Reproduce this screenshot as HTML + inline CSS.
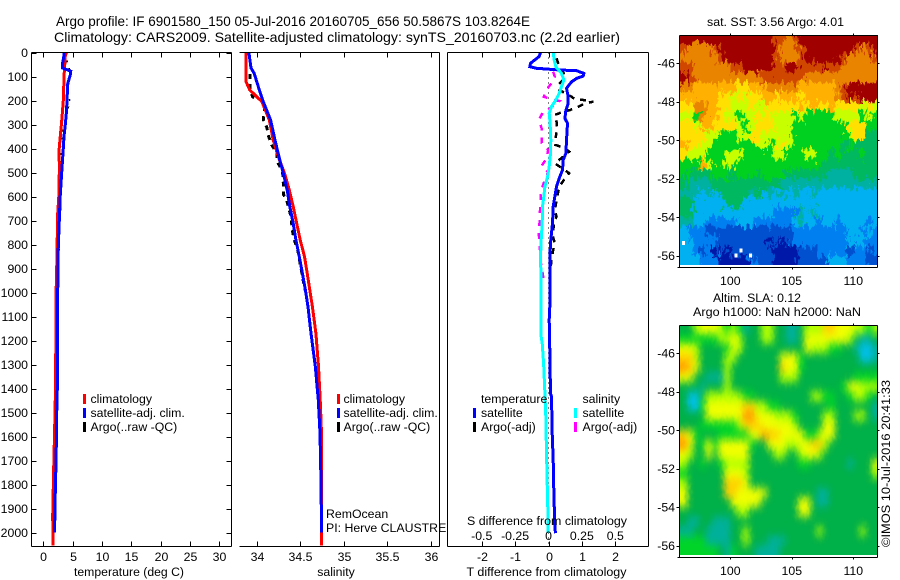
<!DOCTYPE html>
<html lang="en">
<head>
<meta charset="utf-8">
<title>Argo profile 6901580_150</title>
<style>
html,body{margin:0;padding:0;background:#fff;}
svg{display:block;}
text{font-family:"Liberation Sans",Arial,sans-serif;font-size:12.3px;fill:#000;}
.title{font-size:13.6px;}
.crisp{shape-rendering:crispEdges;}
</style>
</head>
<body>
<svg id="figure" xmlns="http://www.w3.org/2000/svg" width="900" height="580" viewBox="0 0 900 580">
  <defs>
    <filter id="sst-streaks" filterUnits="userSpaceOnUse" x="660" y="15" width="240" height="270" color-interpolation-filters="sRGB">
      <feTurbulence type="fractalNoise" baseFrequency="0.32 0.13" numOctaves="3" seed="4" result="n"/>
      <feDisplacementMap in="SourceGraphic" in2="n" scale="17" xChannelSelector="R" yChannelSelector="G"/>
    </filter>
    <filter id="sla-smooth" filterUnits="userSpaceOnUse" x="660" y="305" width="240" height="270" color-interpolation-filters="sRGB">
      <feGaussianBlur stdDeviation="3.4 4.6" result="b"/>
      <feTurbulence type="fractalNoise" baseFrequency="0.4 0.2" numOctaves="1" seed="7" result="n"/>
      <feDisplacementMap in="b" in2="n" scale="4" xChannelSelector="R" yChannelSelector="G"/>
    </filter>
    <clipPath id="sst-clip"><rect x="680" y="35" width="198" height="230"/></clipPath>
    <clipPath id="sla-clip"><rect x="680" y="325" width="198" height="230"/></clipPath>
  </defs>

  <text class="title" x="56" y="26" textLength="474" lengthAdjust="spacingAndGlyphs">Argo profile: IF 6901580_150 05-Jul-2016 20160705_656 50.5867S 103.8264E</text>
  <text class="title" x="54" y="42" textLength="566" lengthAdjust="spacingAndGlyphs">Climatology: CARS2009. Satellite-adjusted climatology: synTS_20160703.nc (2.2d earlier)</text>

  <g id="panel-temp"></g>
  <g id="panel-sal"></g>
  <g id="panel-diff"></g>

  <g>
    <rect class="crisp" x="83" y="394" width="3" height="10" fill="#ff0000"/>
    <text x="90.5" y="403">climatology</text>
    <rect class="crisp" x="83" y="408" width="3" height="10" fill="#0000ff"/>
    <text x="90.5" y="417">satellite-adj. clim.</text>
    <rect class="crisp" x="83" y="422" width="3" height="10" fill="#000"/>
    <text x="90.5" y="431">Argo(..raw -QC)</text>
  </g>
  <g>
    <rect class="crisp" x="337" y="394" width="3" height="10" fill="#ff0000"/>
    <text x="343.5" y="403">climatology</text>
    <rect class="crisp" x="337" y="408" width="3" height="10" fill="#0000ff"/>
    <text x="343.5" y="417">satellite-adj. clim.</text>
    <rect class="crisp" x="337" y="422" width="3" height="10" fill="#000"/>
    <text x="343.5" y="431">Argo(..raw -QC)</text>
  </g>
  <text x="326" y="518">RemOcean</text>
  <text x="326" y="532">PI: Herve CLAUSTRE</text>

  <g>
    <text x="481" y="403">temperature</text>
    <rect class="crisp" x="473" y="408" width="3" height="10" fill="#0000ff"/>
    <text x="481" y="417">satellite</text>
    <rect class="crisp" x="473" y="422" width="3" height="10" fill="#000"/>
    <text x="481" y="431">Argo(-adj)</text>
    <text x="582.5" y="403">salinity</text>
    <rect class="crisp" x="574" y="408" width="3" height="10" fill="#00ffff"/>
    <text x="582.5" y="417">satellite</text>
    <rect class="crisp" x="574" y="422" width="3" height="10" fill="#ff00ff"/>
    <text x="582.5" y="431">Argo(-adj)</text>
  </g>
  <text x="547" y="525" text-anchor="middle" textLength="160" lengthAdjust="spacingAndGlyphs">S difference from climatology</text>
  <text x="546.5" y="576" text-anchor="middle" textLength="160" lengthAdjust="spacingAndGlyphs">T difference from climatology</text>
  <text x="129" y="576" text-anchor="middle" textLength="110" lengthAdjust="spacingAndGlyphs">temperature (deg C)</text>
  <text x="336" y="576" text-anchor="middle">salinity</text>

  <text x="707" y="26" textLength="137" lengthAdjust="spacingAndGlyphs">sat. SST: 3.56  Argo: 4.01</text>
  <g id="map-sst"></g>
  <text x="713" y="302" textLength="88" lengthAdjust="spacingAndGlyphs">Altim. SLA: 0.12</text>
  <text x="693" y="316" textLength="168" lengthAdjust="spacingAndGlyphs">Argo h1000: NaN h2000: NaN</text>
  <g id="map-sla"></g>
  <text transform="translate(890,547) rotate(-90)" textLength="167" lengthAdjust="spacingAndGlyphs">©IMOS 10-Jul-2016 20:41:33</text>
</svg>

<script>
/* Temperature panel */
const tempTicks = [0, 5, 10, 15, 20, 25, 30];
const depthTicks = [0, 100, 200, 300, 400, 500, 600, 700, 800, 900, 1000, 1100, 1200, 1300, 1400, 1500, 1600, 1700, 1800, 1900, 2000];
const tempClimDepth = [0, 100, 150, 200, 270, 300, 340, 400, 500, 600, 670, 900, 1000, 1300, 1400, 1560, 1750, 1930, 2054];
const tempClimValues = [3.8, 3.55, 3.5, 3.43, 3.2, 3.1, 2.95, 2.72, 2.75, 2.65, 2.47, 2.3, 2.2, 2.13, 2.1, 1.96, 1.78, 1.62, 1.67];
const tempSatDepth = [0, 20, 50, 65, 72, 78, 95, 130, 200, 250, 300, 350, 400, 500, 600, 700, 800, 900, 1000, 1200, 1400, 1500, 1700, 1800, 1930, 2000];
const tempSatValues = [3.55, 3.5, 3.26, 3.3, 4.1, 4.68, 4.6, 4.17, 4.05, 3.95, 3.77, 3.55, 3.43, 3.15, 2.9, 2.75, 2.58, 2.52, 2.47, 2.45, 2.4, 2.3, 2.2, 2.07, 2.0, 1.9];
const tempArgoDepth = [0, 25, 45, 70, 85, 100, 120, 150, 180, 205, 250, 300, 340, 380, 420, 470, 505, 560, 600, 650, 700, 760, 820, 900];
const tempArgoValues = [4.0, 3.9, 4.2, 4.5, 4.8, 4.6, 4.4, 4.2, 4.3, 4.6, 4.0, 3.7, 3.1, 3.4, 3.0, 3.0, 3.3, 3.0, 3.05, 3.0, 2.8, 2.8, 2.75, 2.6];

/* Salinity panel */
const salTicks = [34, 34.5, 35, 35.5, 36];
const salClimDepth = [0, 121, 156, 205, 281, 365, 435, 503, 573, 642, 712, 781, 851, 920, 990, 1059, 1170, 1308, 1448, 1586, 2054];
const salClimValues = [33.877, 33.877, 33.92, 34.06, 34.145, 34.19, 34.25, 34.32, 34.375, 34.42, 34.46, 34.5, 34.55, 34.58, 34.61, 34.64, 34.68, 34.71, 34.73, 34.745, 34.745];
const salSatDepth = [0, 65, 86, 156, 205, 281, 365, 435, 503, 573, 642, 712, 781, 851, 920, 990, 1059, 1170, 1308, 1448, 1586, 1809, 2000];
const salSatValues = [33.91, 33.935, 33.97, 34.03, 34.076, 34.16, 34.21, 34.256, 34.306, 34.35, 34.38, 34.42, 34.45, 34.49, 34.525, 34.56, 34.59, 34.624, 34.674, 34.708, 34.728, 34.74, 34.745];
const salArgoDepth = [90, 120, 156, 185, 197, 225, 281, 310, 350, 385, 420, 455, 475, 503, 545, 590, 615, 685, 740, 781, 823, 920, 990];
const salArgoValues = [33.923, 33.923, 33.923, 33.954, 34.057, 34.095, 34.076, 34.115, 34.138, 34.172, 34.233, 34.233, 34.268, 34.299, 34.306, 34.306, 34.345, 34.394, 34.409, 34.432, 34.471, 34.52, 34.555];

/* Difference panel */
const tDiffTicks = [-2, -1, 0, 1, 2];
const sDiffTickLabels = ['-0.5', '-0.25', '0', '0.25', '0.5'];
const tDiffSatDepth = [0, 17, 31, 45, 59, 66, 73, 76, 87, 98, 108, 122, 149, 184, 212, 240, 274, 295, 365, 420, 448, 490, 524, 559, 601, 642, 712, 781, 851, 1059, 1114, 1239, 1420, 1434, 1587, 1698, 1823, 1975, 2003];
const tDiffSatValues = [-0.24, -0.28, -0.41, -0.54, -0.56, -0.36, 0.34, 0.84, 1.06, 1.04, 0.84, 0.69, 0.54, 0.59, 0.59, 0.52, 0.49, 0.57, 0.54, 0.52, 0.44, 0.42, 0.32, 0.24, 0.19, 0.14, 0.12, 0.07, 0.04, 0.04, 0.02, 0.04, 0.06, 0.09, 0.11, 0.14, 0.16, 0.19, 0.21];
const tDiffArgoDepth = [24, 45, 66, 87, 108, 135, 156, 184, 195, 198, 205, 212, 226, 240, 247, 260, 288, 316, 351, 385, 399, 413, 434, 462, 490, 503, 531, 559, 656, 684, 698, 740, 760, 795, 823, 865, 892];
const tDiffArgoValues = [0.24, 0.29, 0.34, 0.46, 0.49, 0.29, 0.32, 0.69, 0.79, 1.04, 1.34, 1.09, 0.89, 0.64, 0.44, 0.19, 0.24, 0.26, 0.22, 0.21, 0.49, 0.62, 0.44, 0.19, 0.49, 0.62, 0.46, 0.32, 0.19, 0.24, 0.19, 0.14, 0.12, 0.19, 0.14, 0.09, 0.07];
const sDiffSatDepth = [0, 31, 59, 87, 115, 142, 170, 198, 226, 253, 295, 365, 420, 476, 517, 559, 601, 642, 712, 781, 851, 920, 1059, 1184, 1212, 1295, 1420, 1517, 1670, 1864, 1975, 2003];
const sDiffSatValues = [0.035, 0.042, 0.055, 0.097, 0.115, 0.097, 0.08, 0.055, 0.022, 0.005, 0.012, 0.017, 0.015, 0.005, -0.007, -0.027, -0.035, -0.045, -0.047, -0.055, -0.06, -0.057, -0.055, -0.055, -0.047, -0.037, -0.027, -0.02, -0.015, -0.007, -0.002, -0.002];
const sDiffArgoDepth = [80, 101, 128, 156, 184, 198, 202, 233, 247, 281, 316, 351, 378, 406, 441, 473, 497, 531, 559, 601, 628, 670, 698, 740, 760, 809, 878, 934, 962];
const sDiffArgoValues = [0.035, 0.047, 0.022, -0.015, -0.035, 0.035, 0.08, 0.01, -0.04, -0.072, -0.052, -0.052, -0.052, -0.002, -0.015, -0.052, -0.002, -0.027, -0.045, -0.06, -0.06, -0.065, -0.065, -0.072, -0.072, -0.065, -0.057, -0.04, -0.04];

/* Map axes */
const lonTicks = [100, 105, 110];
const latTicks = [-46, -48, -50, -52, -54, -56];
const mapLons = [96, 96.5, 97, 97.5, 98, 98.5, 99, 99.5, 100, 100.5, 101, 101.5, 102, 102.5, 103, 103.5, 104, 104.5, 105, 105.5, 106, 106.5, 107, 107.5, 108, 108.5, 109, 109.5, 110, 110.5, 111, 111.5];
const mapLats = [-44.5, -45, -45.5, -46, -46.5, -47, -47.5, -48, -48.5, -49, -49.5, -50, -50.5, -51, -51.5, -52, -52.5, -53, -53.5, -54, -54.5, -55, -55.5, -56];

/* SST map, colour-class per cell */
const sstGrid = [
[12,12,12,12,12,12,12,12,12,12,12,12,12,12,12,11,11,10,11,12,12,12,12,12,12,12,12,12,12,12,12,12],
[11,10,10,10,10,11,12,12,12,12,12,12,12,12,12,11,10,10,10,11,12,12,12,12,12,12,12,12,11,10,11,12],
[10,10,10,10,10,10,11,12,12,12,12,12,12,12,12,11,10,10,10,11,12,12,12,12,12,12,11,10,10,10,10,11],
[11,11,10,10,10,10,10,10,11,11,12,12,12,12,12,11,11,12,12,11,11,11,11,12,11,11,10,10,10,10,10,10],
[12,11,10,10,10,10,10,10,10,10,10,10,10,11,11,11,11,11,11,11,10,10,10,10,10,10,10,10,10,10,10,10],
[10,10,9,9,9,9,9,9,9,8,8,9,9,9,10,10,10,10,10,9,9,9,9,9,9,10,11,12,12,12,12,12],
[9,9,9,9,9,9,8,8,7,8,7,8,8,9,9,8,9,9,9,8,9,9,9,9,9,10,11,12,11,12,12,12],
[8,8,10,10,9,9,8,8,7,7,7,8,7,7,8,8,8,8,8,9,8,9,8,8,9,8,8,8,8,7,8,7],
[7,7,6,10,9,9,8,7,7,6,7,7,8,7,8,7,7,7,6,7,6,6,6,6,6,7,7,7,7,6,7,6],
[8,8,7,9,9,8,8,8,8,7,6,7,8,8,8,7,7,7,6,6,6,6,6,6,6,6,6,8,8,8,6,6],
[8,8,8,8,7,7,6,6,6,7,7,8,8,7,7,7,7,7,6,6,6,6,6,6,6,6,6,7,8,8,5,5],
[9,8,8,7,7,6,6,6,6,6,6,6,7,7,6,7,8,7,6,6,6,6,6,6,6,6,5,6,5,5,5,5],
[8,7,7,7,6,6,6,7,7,7,6,6,6,6,6,7,7,6,6,6,7,7,6,6,5,6,5,5,5,6,5,5],
[6,6,6,9,7,6,6,7,7,6,6,6,6,6,6,6,6,6,6,6,6,6,6,5,5,5,5,5,5,5,5,5],
[6,5,5,5,5,6,6,6,5,6,6,6,5,6,6,6,6,5,5,5,5,5,5,5,4,4,4,4,5,5,5,5],
[5,4,4,4,4,5,5,5,5,5,5,5,5,5,5,5,4,4,4,4,4,4,4,4,4,4,4,4,4,4,4,4],
[4,4,4,3,4,3,5,5,5,5,5,4,5,3,4,3,4,3,4,3,3,4,3,3,3,3,3,3,3,3,3,3],
[5,5,3,3,3,3,3,5,5,5,3,3,3,3,3,3,3,3,3,3,3,3,3,3,3,3,3,3,3,3,3,3],
[5,5,3,3,3,3,3,3,3,3,3,3,3,3,3,2,2,2,2,4,3,4,3,3,3,3,3,3,3,3,3,3],
[4,4,3,3,2,2,2,2,2,3,3,3,2,2,2,2,2,2,3,4,3,3,2,3,3,2,3,3,3,3,2,3],
[3,2,2,2,1,1,1,1,1,1,1,1,1,1,1,1,1,1,2,2,2,2,2,2,2,2,2,3,3,2,3,2],
[3,3,2,2,2,2,1,1,1,1,1,1,1,1,0,1,0,1,2,2,2,2,2,2,2,2,2,3,3,3,2,2],
[3,3,2,1,2,0,1,0,1,1,1,1,1,1,1,0,0,0,0,1,1,1,2,2,2,2,2,1,2,2,1,2],
[3,3,3,2,2,2,0,0,0,0,0,2,1,1,1,0,0,0,0,1,1,1,1,1,3,3,3,2,2,2,1,1]
];
const sstMissingLons = [96.25, 100.5, 100.9, 101.7];
const sstMissingLats = [-55.35, -56, -55.75, -56];

/* Sea-level-anomaly map, colour-class per cell */
const slaGrid = [
[5,5,7,8,8,8,7,6,7,6,4,5,5,7,7,5,5,4,4,5,7,7,7,9,9,8,8,8,7,7,6,7],
[6,6,6,6,6,6,7,7,8,7,5,5,5,7,7,5,5,4,4,5,8,8,8,8,8,8,8,7,5,4,4,5],
[8,8,7,5,5,5,5,6,8,7,5,5,5,5,5,5,5,5,5,5,8,7,7,7,6,6,5,5,4,3,3,4],
[9,9,7,5,5,5,5,7,7,5,5,5,5,5,5,5,8,8,8,6,5,5,5,5,5,5,5,5,5,3,3,4],
[10,9,8,5,5,5,5,7,5,5,5,5,5,5,5,5,9,8,8,6,5,5,5,5,5,5,5,5,5,5,5,5],
[8,8,5,5,4,4,4,7,5,5,5,5,5,5,5,5,7,7,7,5,5,5,5,5,5,5,5,5,6,6,6,6],
[5,5,5,4,5,5,5,7,5,5,5,5,5,5,5,5,5,5,5,5,5,5,5,5,5,5,6,8,8,7,7,7],
[5,3,3,5,7,7,7,7,7,7,6,6,5,5,5,5,5,5,5,5,5,7,7,6,6,5,5,6,7,7,6,5],
[5,3,3,6,8,8,8,8,8,8,9,9,7,7,6,6,5,5,5,5,5,5,5,5,6,5,5,5,5,5,5,4],
[5,5,5,5,8,8,8,8,8,8,10,10,8,8,8,7,7,7,6,5,5,5,5,7,7,5,5,5,7,7,5,4],
[5,5,5,6,6,6,6,6,6,7,9,9,9,8,8,8,8,8,7,5,5,5,5,8,8,5,5,5,5,5,5,5],
[9,8,6,5,5,5,6,6,6,6,6,8,8,10,9,9,8,8,8,8,6,6,7,8,8,5,5,5,5,5,5,5],
[10,8,5,6,8,6,8,8,8,8,8,6,5,5,8,8,8,7,7,8,8,9,9,7,5,5,5,5,5,5,5,5],
[8,7,5,5,8,5,8,8,8,8,8,5,5,5,5,7,7,5,5,7,8,8,7,5,5,5,5,5,5,5,5,5],
[7,5,5,6,5,5,6,7,7,7,7,5,5,5,5,5,5,5,5,6,6,5,5,5,5,5,5,4,5,5,5,8],
[6,5,5,5,5,5,5,8,8,8,7,5,5,5,5,5,5,5,5,5,5,5,5,5,5,5,5,5,5,5,5,7],
[7,5,5,5,5,5,5,9,9,9,8,5,5,5,5,5,5,5,5,5,5,5,5,5,5,5,5,5,5,5,5,5],
[8,5,5,5,5,5,5,9,9,8,8,8,8,8,5,5,5,5,5,5,5,5,4,4,5,5,5,5,5,5,5,5],
[8,5,5,5,5,5,5,5,8,8,8,8,8,5,5,5,5,5,5,8,8,5,4,4,5,5,5,5,5,5,5,5],
[5,5,5,5,5,5,5,5,5,7,7,5,5,5,5,5,5,5,5,8,8,5,5,5,5,5,5,5,5,5,5,5],
[5,4,4,5,5,4,4,4,5,5,5,5,5,5,5,5,5,5,5,5,5,5,5,5,5,5,5,5,5,5,5,5],
[4,4,5,5,4,4,4,4,5,5,7,5,5,5,5,5,5,5,5,5,5,5,7,5,5,5,5,5,5,7,5,5],
[6,6,6,6,4,4,4,4,5,5,7,5,5,5,4,4,4,5,5,5,5,5,5,5,5,5,5,5,5,5,5,5],
[6,6,6,6,6,6,5,4,6,5,5,5,4,4,4,4,5,5,5,5,5,5,5,5,5,5,5,5,5,5,5,5]
];

const sstColours = ['#0018a8', '#0050d0', '#0080f0', '#00b0f0', '#00b0a0', '#00b860', '#00d020', '#c8ff00', '#ffe000', '#ffb000', '#e88400', '#d04800', '#a00000'];
const slaColours = ['#0000c0', '#0060e0', '#0090e0', '#00c0e8', '#00b09a', '#00b048', '#00d428', '#b0ff00', '#f0ff00', '#ffd000', '#ff9800'];

const SVG_NS = 'http://www.w3.org/2000/svg';
const depthY = d => 52.5 + 0.24 * d;
const tempX = v => 43.2 + 5.87 * v;
const salX = v => 256.7 + 87 * (v - 34);
const tDiffX = v => 548.5 + 33.4 * v;
const sDiffX = v => 548.5 + 133.6 * v;

function svgEl(tag, attrs, parent) {
  const el = document.createElementNS(SVG_NS, tag);
  for (const k in attrs) el.setAttribute(k, attrs[k]);
  parent.appendChild(el);
  return el;
}

function crispLine(parent, x1, y1, x2, y2, name) {
  const el = svgEl('line', {x1: x1, y1: y1, x2: x2, y2: y2, stroke: '#000', 'stroke-width': 1, 'shape-rendering': 'crispEdges'}, parent);
  
  
  return el;
}

function label(parent, x, y, str, anchor, name) {
  const el = svgEl('text', {x: x, y: y, 'text-anchor': anchor}, parent);
  el.textContent = str;
  
  
  return el;
}

function drawProfile(parent, depths, values, xFn, colour, width, dash, name) {
  const pts = depths.map((d, i) => xFn(values[i]).toFixed(1) + ',' + depthY(d).toFixed(1)).join(' ');
  const attrs = {points: pts, fill: 'none', stroke: colour, 'stroke-width': width, 'shape-rendering': 'crispEdges'};
  if (dash) attrs['stroke-dasharray'] = dash;
  const el = svgEl('polyline', attrs, parent);
  
  
  return el;
}

const TOP = 52.5, BOTTOM = 546.5;

function xTicks(parent, ticks, xFn, labels, name) {
  ticks.forEach((t, i) => {
    const x = Math.round(xFn(t)) + 0.5;
    crispLine(parent, x, TOP, x, TOP + 5, name + '-top-tick');
    crispLine(parent, x, BOTTOM, x, BOTTOM - 5, name + '-bottom-tick');
    if (labels) label(parent, x, 561, labels[i], 'middle', name + '-tick-label');
  });
}

/* Temperature panel */
const pT = document.getElementById('panel-temp');
drawProfile(pT, tempArgoDepth, tempArgoValues, tempX, '#000', 1.5, '2 6', 'argo-temperature-line');
drawProfile(pT, tempClimDepth, tempClimValues, tempX, '#ff0000', 3, null, 'climatology-temperature-line');
drawProfile(pT, tempSatDepth, tempSatValues, tempX, '#0000ff', 3, null, 'satellite-temperature-line');
crispLine(pT, 31.5, TOP, 231.5, TOP, 'temperature-frame-top');
crispLine(pT, 31.5, BOTTOM, 231.5, BOTTOM, 'temperature-frame-bottom');
crispLine(pT, 31.5, TOP, 31.5, BOTTOM, 'temperature-frame-left');
crispLine(pT, 231.5, TOP, 231.5, BOTTOM, 'temperature-frame-right');
xTicks(pT, tempTicks, tempX, tempTicks.map(String), 'temperature');
depthTicks.forEach(d => {
  const y = Math.round(depthY(d)) + 0.5;
  crispLine(pT, 31.5, y, 36.5, y, 'depth-left-tick');
  crispLine(pT, 231.5, y, 226.5, y, 'depth-right-tick');
  label(pT, 28, depthY(d) + 4.5, String(d), 'end', 'depth-tick-label');
});

/* Salinity panel */
const pS = document.getElementById('panel-sal');
drawProfile(pS, salArgoDepth, salArgoValues, salX, '#000', 3, '5 5', 'argo-salinity-line');
drawProfile(pS, salClimDepth, salClimValues, salX, '#ff0000', 3, null, 'climatology-salinity-line');
drawProfile(pS, salSatDepth, salSatValues, salX, '#0000ff', 3, null, 'satellite-salinity-line');
crispLine(pS, 239.5, TOP, 439.5, TOP, 'salinity-frame-top');
crispLine(pS, 239.5, BOTTOM, 439.5, BOTTOM, 'salinity-frame-bottom');
crispLine(pS, 439.5, TOP, 439.5, BOTTOM, 'salinity-frame-right');
xTicks(pS, salTicks, salX, salTicks.map(String), 'salinity');

/* Difference panel */
const pD = document.getElementById('panel-diff');
const zero = svgEl('line', {x1: tDiffX(0), y1: TOP, x2: tDiffX(0), y2: BOTTOM, stroke: '#000', 'stroke-width': 1, 'stroke-dasharray': '1 4', 'shape-rendering': 'crispEdges'}, pD);


drawProfile(pD, tDiffArgoDepth, tDiffArgoValues, tDiffX, '#000', 2.5, '6 6', 'argo-temperature-difference-line');
drawProfile(pD, sDiffArgoDepth, sDiffArgoValues, sDiffX, '#ff00ff', 2.5, '6 7', 'argo-salinity-difference-line');
drawProfile(pD, tDiffSatDepth, tDiffSatValues, tDiffX, '#0000ff', 3, null, 'satellite-temperature-difference-line');
drawProfile(pD, sDiffSatDepth, sDiffSatValues, sDiffX, '#00ffff', 3, null, 'satellite-salinity-difference-line');
crispLine(pD, 447.5, TOP, 648.5, TOP, 'difference-frame-top');
crispLine(pD, 447.5, BOTTOM, 648.5, BOTTOM, 'difference-frame-bottom');
crispLine(pD, 447.5, TOP, 447.5, BOTTOM, 'difference-frame-left');
crispLine(pD, 648.5, TOP, 648.5, BOTTOM, 'difference-frame-right');
xTicks(pD, tDiffTicks, tDiffX, tDiffTicks.map(String), 't-difference');
tDiffTicks.forEach((t, i) => {
  label(pD, tDiffX(t), 540, sDiffTickLabels[i], 'middle', 's-difference-tick-label');
});

/* Maps */
const lonX = lon => 730.3 + 12.3 * (lon - 100);

function drawMap(cfg) {
  const root = document.getElementById(cfg.id);
  const latY = lat => cfg.y46 + 19.25 * (-46 - lat);
  const clip = svgEl('g', {'clip-path': 'url(#' + cfg.clip + ')'}, root);
  
  
  const cells = svgEl('g', {filter: 'url(#' + cfg.filter + ')'}, clip);
  
  
  const nR = cfg.grid.length;
  cfg.grid.forEach((row, r) => {
    row.forEach((v, c) => {
      const x0 = lonX(mapLons[c]);
      const x1 = c + 1 < row.length ? lonX(mapLons[c + 1]) : lonX(112);
      const y0 = latY(mapLats[r]);
      const y1 = r + 1 < nR ? latY(mapLats[r + 1]) : latY(-56.5);
      const pad = 16;
      const left = c === 0 ? x0 - pad : x0;
      const right = c === row.length - 1 ? x1 + pad : x1;
      const top = r === 0 ? y0 - pad : y0;
      const bot = r === nR - 1 ? y1 + pad : y1;
      const cell = svgEl('rect', {x: left, y: top, width: right - left + 0.6, height: bot - top + 0.6, fill: cfg.colours[v], 'shape-rendering': 'crispEdges'}, cells);
      
      
    });
  });
  if (cfg.missingLons) {
    cfg.missingLons.forEach((lon, i) => {
      const hole = svgEl('rect', {x: lonX(lon) - 2, y: latY(cfg.missingLats[i]) - 2, width: 3, height: 4, fill: '#fff', 'shape-rendering': 'crispEdges'}, root);
      
      
    });
  }
  const l = 679.5, rt = 877.5, t = cfg.top, b = cfg.bottom;
  crispLine(root, l, t, rt, t, cfg.name + '-frame-top');
  crispLine(root, l, b, rt, b, cfg.name + '-frame-bottom');
  crispLine(root, l, t, l, b, cfg.name + '-frame-left');
  crispLine(root, rt, t, rt, b, cfg.name + '-frame-right');
  lonTicks.forEach(lon => {
    const x = Math.round(lonX(lon)) + 0.5;
    crispLine(root, x, t, x, t - 2, cfg.name + '-lon-top-tick');
    crispLine(root, x, b, x, b + 2, cfg.name + '-lon-bottom-tick');
    label(root, lonX(lon), cfg.lonLabelY, String(lon), 'middle', cfg.name + '-lon-tick-label');
  });
  latTicks.forEach(lat => {
    const y = Math.round(latY(lat)) + 0.5;
    crispLine(root, l, y, l - 3, y, cfg.name + '-lat-left-tick');
    crispLine(root, rt, y, rt + 2, y, cfg.name + '-lat-right-tick');
    label(root, 675, latY(lat) + 4.5, String(lat), 'end', cfg.name + '-lat-tick-label');
  });
  crispLine(root, l - 2, b + 0.0, l, b, cfg.name + '-corner-tick');
}

drawMap({id: 'map-sst', name: 'sst-map', clip: 'sst-clip', filter: 'sst-streaks', grid: sstGrid, colours: sstColours, y46: 63, top: 35.5, bottom: 267.5, lonLabelY: 285, missingLons: sstMissingLons, missingLats: sstMissingLats});
drawMap({id: 'map-sla', name: 'sla-map', clip: 'sla-clip', filter: 'sla-smooth', grid: slaGrid, colours: slaColours, y46: 353, top: 325.5, bottom: 557.5, lonLabelY: 575});
</script>
</body>
</html>
